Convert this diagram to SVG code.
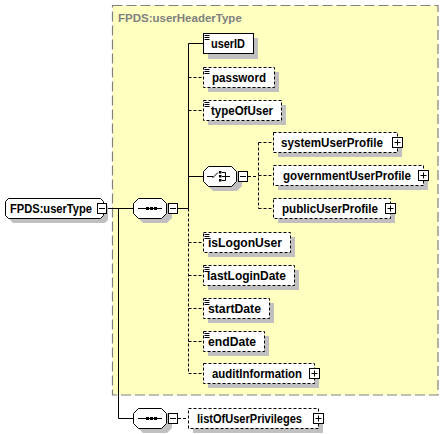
<svg xmlns="http://www.w3.org/2000/svg" width="444" height="434" viewBox="0 0 444 434">
<style>
.t{font-family:"Liberation Sans",Arial,sans-serif;font-weight:bold;font-size:12px;fill:#000}
.hdr{font-family:"Liberation Sans",Arial,sans-serif;font-weight:bold;font-size:11.5px;fill:#808080}
.box{fill:#fff;stroke:#000;stroke-width:1}
.opt{fill:#fff;stroke:#000;stroke-width:1;stroke-dasharray:3,2}
.sh{fill:#c0c0c0;stroke:none}
.ln{stroke:#000;stroke-width:1;fill:none}
.dl{stroke:#000;stroke-width:1;fill:none;stroke-dasharray:3,2}
.ic{stroke:#000;stroke-width:1;fill:none}
.pm{fill:#fff;stroke:#000;stroke-width:1}
</style>
<rect x="0" y="0" width="444" height="434" fill="#fff"/>
<g id="userHeaderType">
<rect x="112.5" y="5.5" width="325.5" height="389.5" fill="#ffffc0" stroke="#808080" stroke-width="1.2" stroke-dasharray="10,4"/>
<text class="hdr" x="118" y="22">FPDS:userHeaderType</text>
</g>
<g id="connectors">
<line class="ln" x1="107" y1="208.5" x2="133" y2="208.5"/>
<polyline class="ln" points="118.5,208.5 118.5,418.5 133,418.5"/>
<line class="ln" x1="178" y1="208.5" x2="188.5" y2="208.5"/>
<line class="ln" x1="188.5" y1="43.5" x2="188.5" y2="208.5"/>
<line class="dl" x1="188.5" y1="208.5" x2="188.5" y2="373.5"/>
<line class="ln" x1="188.5" y1="43.5" x2="203" y2="43.5"/>
<line class="dl" x1="188.5" y1="77.5" x2="203" y2="77.5"/>
<line class="dl" x1="188.5" y1="110.5" x2="203" y2="110.5"/>
<line class="ln" x1="188.5" y1="176.5" x2="203" y2="176.5"/>
<line class="dl" x1="188.5" y1="242.5" x2="203" y2="242.5"/>
<line class="dl" x1="188.5" y1="275.5" x2="203" y2="275.5"/>
<line class="dl" x1="188.5" y1="308.5" x2="203" y2="308.5"/>
<line class="dl" x1="188.5" y1="341.5" x2="203" y2="341.5"/>
<line class="dl" x1="188.5" y1="373.5" x2="203" y2="373.5"/>
<line class="dl" x1="248" y1="176.5" x2="258.5" y2="176.5"/>
<line class="dl" x1="258.5" y1="142.5" x2="258.5" y2="208.5"/>
<line class="dl" x1="258.5" y1="142.5" x2="273" y2="142.5"/>
<line class="dl" x1="258.5" y1="175.5" x2="273" y2="175.5"/>
<line class="dl" x1="258.5" y1="208.5" x2="273" y2="208.5"/>
<line class="dl" x1="178" y1="418.5" x2="188" y2="418.5"/>
</g>
<g id="userType">
<path class="sh" d="M13,203 H103 L108,206 V220 L105,223 H13 L10,220 V206 Z"/>
<path class="box" d="M8.5,198.5 H100.5 L103.5,201.5 V215.5 L100.5,218.5 H8.5 L5.5,215.5 V201.5 Z"/>
<text class="t" x="10" y="213" textLength="82" lengthAdjust="spacingAndGlyphs">FPDS:userType</text>
<rect class="pm" x="97.5" y="203.5" width="9" height="10"/>
<line class="ln" x1="99" y1="208.5" x2="105" y2="208.5"/>
</g>
<g id="sequence1">
<path class="sh" d="M143,203 H167 L172,208 V218 L167,223 H143 L138,218 V208 Z"/>
<path class="box" d="M138.5,198.5 H161.5 L166.5,203.5 V213.5 L161.5,218.5 H138.5 L133.5,213.5 V203.5 Z"/>
<line class="ln" x1="138" y1="208.5" x2="162" y2="208.5"/>
<rect x="146" y="207" width="3" height="3" fill="#000"/>
<rect x="150" y="207" width="3" height="3" fill="#000"/>
<rect x="154" y="207" width="3" height="3" fill="#000"/>
<rect class="pm" x="168.5" y="203.5" width="9" height="10"/>
<line class="ln" x1="170" y1="208.5" x2="176" y2="208.5"/>
</g>
<g id="userID">
<rect class="sh" x="208" y="38" width="50" height="21"/>
<rect class="box" x="203.5" y="33.5" width="50" height="20"/>
<path class="ic" d="M204.5,35.5 h5 M204.5,37.5 h5 M204.5,39.5 h5"/>
<text class="t" x="211" y="48" textLength="34" lengthAdjust="spacingAndGlyphs">userID</text>
</g>
<g id="password">
<rect class="sh" x="208" y="72" width="71" height="20"/>
<rect class="opt" x="203.5" y="67.5" width="71" height="20"/>
<path class="ic" d="M204.5,69.5 h5 M204.5,71.5 h5 M204.5,73.5 h5"/>
<text class="t" x="212" y="82" textLength="54" lengthAdjust="spacingAndGlyphs">password</text>
</g>
<g id="typeOfUser">
<rect class="sh" x="208" y="105" width="78" height="20"/>
<rect class="opt" x="203.5" y="100.5" width="78" height="20"/>
<path class="ic" d="M204.5,102.5 h5 M204.5,104.5 h5 M204.5,106.5 h5"/>
<text class="t" x="211" y="115" textLength="62" lengthAdjust="spacingAndGlyphs">typeOfUser</text>
</g>
<g id="choice">
<path class="sh" d="M213,171 H237 L242,176 V186 L237,191 H213 L208,186 V176 Z"/>
<path class="box" d="M208.5,166.5 H231.5 L236.5,171.5 V181.5 L231.5,186.5 H208.5 L203.5,181.5 V171.5 Z"/>
<path class="ic" d="M207,176.5 H213 M212.5,178 L218,172.5 M222,172.5 H225.5 V180.5 H222 M222,176.5 H230"/>
<rect x="219" y="171" width="2.5" height="2.5" fill="#000"/>
<rect x="219" y="175" width="2.5" height="2.5" fill="#000"/>
<rect x="219" y="179" width="2.5" height="2.5" fill="#000"/>
<rect class="pm" x="238.5" y="171.5" width="9" height="10"/>
<line class="ln" x1="240" y1="176.5" x2="246" y2="176.5"/>
</g>
<g id="systemUserProfile">
<rect class="sh" x="278" y="137" width="124" height="20"/>
<rect class="opt" x="273.5" y="132.5" width="124" height="20"/>
<text class="t" x="281" y="147" textLength="102" lengthAdjust="spacingAndGlyphs">systemUserProfile</text>
<rect class="pm" x="392.5" y="137.5" width="10" height="10"/>
<path class="ln" d="M394.5,142.5 h6 M397.5,139.5 v6"/>
</g>
<g id="governmentUserProfile">
<rect class="sh" x="278" y="170" width="150" height="20"/>
<rect class="opt" x="273.5" y="165.5" width="150" height="20"/>
<text class="t" x="283" y="180" textLength="128" lengthAdjust="spacingAndGlyphs">governmentUserProfile</text>
<rect class="pm" x="418.5" y="170.5" width="10" height="10"/>
<path class="ln" d="M420.5,175.5 h6 M423.5,172.5 v6"/>
</g>
<g id="publicUserProfile">
<rect class="sh" x="278" y="203" width="117" height="20"/>
<rect class="opt" x="273.5" y="198.5" width="117" height="20"/>
<text class="t" x="282" y="213" textLength="96" lengthAdjust="spacingAndGlyphs">publicUserProfile</text>
<rect class="pm" x="385.5" y="203.5" width="10" height="10"/>
<path class="ln" d="M387.5,208.5 h6 M390.5,205.5 v6"/>
</g>
<g id="isLogonUser">
<rect class="sh" x="208" y="237" width="87" height="20"/>
<rect class="opt" x="203.5" y="232.5" width="87" height="20"/>
<path class="ic" d="M204.5,234.5 h5 M204.5,236.5 h5 M204.5,238.5 h5"/>
<text class="t" x="208" y="247" textLength="74" lengthAdjust="spacingAndGlyphs">isLogonUser</text>
</g>
<g id="lastLoginDate">
<rect class="sh" x="208" y="270" width="91" height="20"/>
<rect class="opt" x="203.5" y="265.5" width="91" height="20"/>
<path class="ic" d="M204.5,267.5 h5 M204.5,269.5 h5 M204.5,271.5 h5"/>
<text class="t" x="207" y="280" textLength="79" lengthAdjust="spacingAndGlyphs">lastLoginDate</text>
</g>
<g id="startDate">
<rect class="sh" x="208" y="303" width="66" height="20"/>
<rect class="opt" x="203.5" y="298.5" width="66" height="20"/>
<path class="ic" d="M204.5,300.5 h5 M204.5,302.5 h5 M204.5,304.5 h5"/>
<text class="t" x="208" y="313" textLength="53" lengthAdjust="spacingAndGlyphs">startDate</text>
</g>
<g id="endDate">
<rect class="sh" x="208" y="336" width="61" height="20"/>
<rect class="opt" x="203.5" y="331.5" width="61" height="20"/>
<path class="ic" d="M204.5,333.5 h5 M204.5,335.5 h5 M204.5,337.5 h5"/>
<text class="t" x="208" y="346" textLength="48" lengthAdjust="spacingAndGlyphs">endDate</text>
</g>
<g id="auditInformation">
<rect class="sh" x="208" y="368" width="111" height="20"/>
<rect class="opt" x="203.5" y="363.5" width="111" height="20"/>
<text class="t" x="212" y="378" textLength="90" lengthAdjust="spacingAndGlyphs">auditInformation</text>
<rect class="pm" x="309.5" y="368.5" width="10" height="10"/>
<path class="ln" d="M311.5,373.5 h6 M314.5,370.5 v6"/>
</g>
<g id="sequence2">
<path class="sh" d="M143,413 H167 L172,418 V428 L167,433 H143 L138,428 V418 Z"/>
<path class="box" d="M138.5,408.5 H161.5 L166.5,413.5 V423.5 L161.5,428.5 H138.5 L133.5,423.5 V413.5 Z"/>
<line class="ln" x1="138" y1="418.5" x2="162" y2="418.5"/>
<rect x="146" y="417" width="3" height="3" fill="#000"/>
<rect x="150" y="417" width="3" height="3" fill="#000"/>
<rect x="154" y="417" width="3" height="3" fill="#000"/>
<rect class="pm" x="168.5" y="413.5" width="9" height="10"/>
<line class="ln" x1="170" y1="418.5" x2="176" y2="418.5"/>
</g>
<g id="listOfUserPrivileges">
<rect class="sh" x="193" y="413" width="130" height="20"/>
<rect class="opt" x="188.5" y="408.5" width="130" height="20"/>
<text class="t" x="197" y="423" textLength="105" lengthAdjust="spacingAndGlyphs">listOfUserPrivileges</text>
<rect class="pm" x="313.5" y="413.5" width="10" height="10"/>
<path class="ln" d="M315.5,418.5 h6 M318.5,415.5 v6"/>
</g>
</svg>
